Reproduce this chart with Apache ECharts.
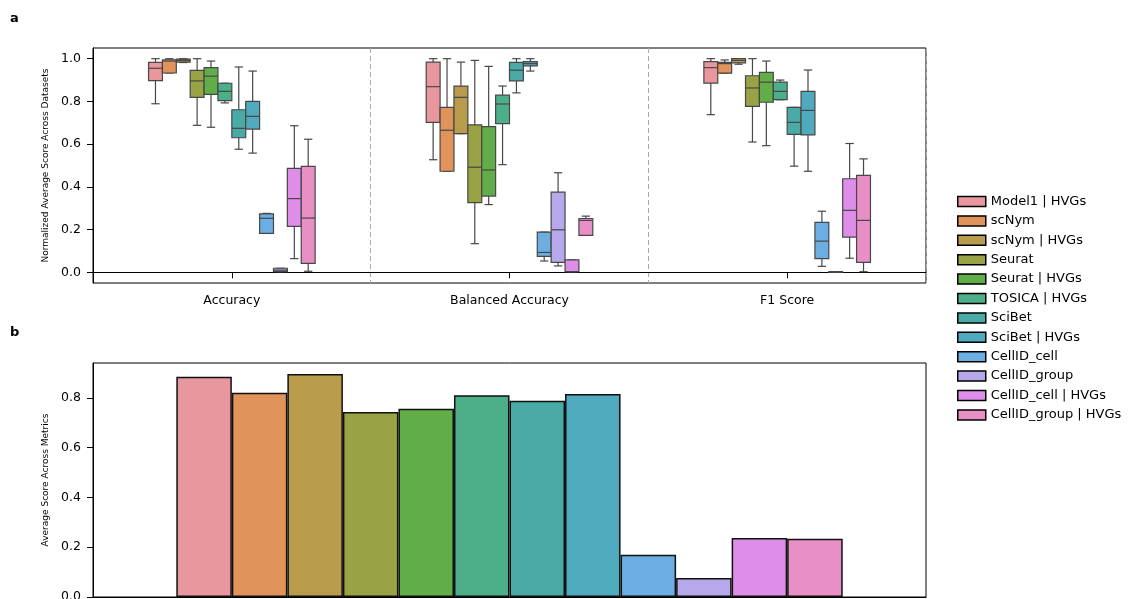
<!DOCTYPE html>
<html>
<head>
<meta charset="utf-8">
<script src="https://cdn.jsdelivr.net/npm/echarts@6/dist/echarts.min.js"></script>
<style>
  html, body { margin: 0; padding: 0; background: #ffffff; }
  #chart { width: 1128px; height: 599px; }
</style>
</head>
<body>
<div id="chart"></div>
<script>
// Methods compared, in plotting / legend order
const methods = [
  'Model1 | HVGs', 'scNym', 'scNym | HVGs', 'Seurat', 'Seurat | HVGs', 'TOSICA | HVGs',
  'SciBet', 'SciBet | HVGs', 'CellID_cell', 'CellID_group', 'CellID_cell | HVGs', 'CellID_group | HVGs'
];
const methodColors = [
  '#e9979f', '#e0935a', '#b89c4c', '#99a346', '#61ae48', '#4caf8a',
  '#4aaaa5', '#50aabe', '#6daee2', '#b7a8eb', '#de8ee8', '#e88fc5'
];
const metrics = ['Accuracy', 'Balanced Accuracy', 'F1 Score'];

// Box statistics per method: [lower whisker, Q1, median, Q3, upper whisker]
const accuracyStats = [
  [0.789, 0.897, 0.955, 0.983, 1.000],
  [0.933, 0.933, 0.989, 0.995, 1.000],
  [0.982, 0.984, 0.992, 0.998, 1.000],
  [0.688, 0.819, 0.896, 0.945, 1.000],
  [0.679, 0.833, 0.918, 0.958, 0.989],
  [0.793, 0.804, 0.847, 0.885, 0.885],
  [0.576, 0.630, 0.674, 0.761, 0.961],
  [0.558, 0.670, 0.730, 0.800, 0.942],
  [0.182, 0.182, 0.253, 0.274, 0.276],
  [0.003, 0.003, 0.010, 0.019, 0.019],
  [0.064, 0.215, 0.345, 0.487, 0.686],
  [0.005, 0.042, 0.254, 0.496, 0.623]
];
const balancedStats = [
  [0.527, 0.702, 0.869, 0.984, 1.000],
  [0.473, 0.473, 0.665, 0.772, 1.000],
  [0.649, 0.649, 0.819, 0.872, 0.984],
  [0.134, 0.326, 0.492, 0.690, 0.992],
  [0.317, 0.357, 0.479, 0.682, 0.964],
  [0.504, 0.696, 0.788, 0.829, 0.872],
  [0.840, 0.896, 0.946, 0.983, 1.000],
  [0.942, 0.966, 0.977, 0.986, 1.000],
  [0.053, 0.075, 0.093, 0.188, 0.188],
  [0.030, 0.047, 0.199, 0.375, 0.466],
  [0.003, 0.003, 0.003, 0.058, 0.058],
  [0.173, 0.173, 0.243, 0.252, 0.263]
];
const f1Stats = [
  [0.738, 0.886, 0.958, 0.986, 1.000],
  [0.932, 0.932, 0.977, 0.983, 0.994],
  [0.974, 0.980, 0.992, 1.000, 1.000],
  [0.610, 0.777, 0.863, 0.920, 1.000],
  [0.593, 0.796, 0.890, 0.936, 0.989],
  [0.808, 0.808, 0.847, 0.890, 0.900],
  [0.497, 0.646, 0.702, 0.772, 0.772],
  [0.473, 0.643, 0.758, 0.847, 0.947],
  [0.028, 0.064, 0.146, 0.234, 0.286],
  [0.002, 0.002, 0.002, 0.003, 0.003],
  [0.066, 0.165, 0.290, 0.438, 0.603],
  [0.003, 0.047, 0.243, 0.454, 0.531]
];

// Mean score of each method across the three metrics
const meanScores = [0.885, 0.820, 0.896, 0.743, 0.756, 0.810, 0.788, 0.815, 0.170, 0.076, 0.237, 0.234];

const scoreTicks = [0, 0.2, 0.4, 0.6, 0.8, 1.0];
const meanTicks = [0, 0.2, 0.4, 0.6, 0.8];

const FONT = 'DejaVu Sans';
const EDGE = '#474747';
const BOX_SPAN = 0.6;   // fraction of each metric band occupied by the box group

const chart = echarts.init(document.getElementById('chart'), null, { renderer: 'canvas' });

function boxRenderer(i) {
  return function (params, api) {
    const cat = api.value(0);
    const band = api.size([1, 0])[0];
    const slot = band * BOX_SPAN / methods.length;
    const cx = api.coord([cat, 0])[0] - band * BOX_SPAN / 2 + slot * (i + 0.5);
    const py = (dim) => api.coord([cat, api.value(dim)])[1];
    const lo = py(1), q1 = py(2), md = py(3), q3 = py(4), hi = py(5);
    const half = slot / 2, cap = slot * 0.3;
    const ls = { stroke: EDGE, lineWidth: 1.2 };
    return {
      type: 'group',
      children: [
        { type: 'line', shape: { x1: cx, y1: q3, x2: cx, y2: hi }, style: ls },
        { type: 'line', shape: { x1: cx, y1: q1, x2: cx, y2: lo }, style: ls },
        { type: 'line', shape: { x1: cx - cap, y1: hi, x2: cx + cap, y2: hi }, style: ls },
        { type: 'line', shape: { x1: cx - cap, y1: lo, x2: cx + cap, y2: lo }, style: ls },
        { type: 'rect', shape: { x: cx - half, y: q3, width: slot, height: Math.max(q1 - q3, 0.5) },
          style: { fill: methodColors[i], stroke: EDGE, lineWidth: 1.2 } },
        { type: 'line', shape: { x1: cx - half, y1: md, x2: cx + half, y2: md }, style: ls }
      ]
    };
  };
}

const statSets = [accuracyStats, balancedStats, f1Stats];
const series = [];
methods.forEach((name, i) => {
  series.push({
    name: name,
    type: 'custom',
    xAxisIndex: 0,
    yAxisIndex: 0,
    renderItem: boxRenderer(i),
    itemStyle: { color: methodColors[i] },
    encode: { x: 0, y: [1, 2, 3, 4, 5] },
    data: statSets.map((s, k) => [k].concat(s[i])),
    silent: true
  });
});
methods.forEach((name, i) => {
  series.push({
    name: name,
    type: 'bar',
    xAxisIndex: 1,
    yAxisIndex: 1,
    barGap: '0%',
    barCategoryGap: '20%',
    itemStyle: { color: methodColors[i], borderColor: '#111111', borderWidth: 1.5 },
    data: [meanScores[i]],
    silent: true
  });
});

const tickLabel = { fontFamily: FONT, fontSize: 12.5, color: '#000' };

chart.setOption({
  animation: false,
  backgroundColor: '#ffffff',
  textStyle: { fontFamily: FONT },
  graphic: [
    { type: 'text', x: 10, y: 19, style: { text: 'a', fontFamily: FONT, fontSize: 13, fontWeight: 'bold', fill: '#000', verticalAlign: 'middle' } },
    { type: 'text', x: 10, y: 333, style: { text: 'b', fontFamily: FONT, fontSize: 13, fontWeight: 'bold', fill: '#000', verticalAlign: 'middle' } }
  ],
  legend: {
    orient: 'vertical',
    left: 957,
    top: 195,
    padding: 0,
    itemWidth: 28,
    itemHeight: 10,
    itemGap: 6.4,
    selectedMode: false,
    icon: 'rect',
    textStyle: { fontFamily: FONT, fontSize: 13, color: '#000' },
    data: methods.map((name, i) => ({
      name: name,
      itemStyle: { color: methodColors[i], borderColor: '#000', borderWidth: 1.5 }
    }))
  },
  grid: [
    { left: 93, top: 48, width: 833, height: 235, show: true, borderColor: '#000', borderWidth: 1, containLabel: false, outerBoundsMode: 'none' },
    { left: 93, top: 363, width: 833, height: 234, show: true, borderColor: '#000', borderWidth: 1, containLabel: false, outerBoundsMode: 'none' }
  ],
  xAxis: [
    {
      type: 'category', gridIndex: 0, data: metrics, boundaryGap: true,
      axisLine: { lineStyle: { color: '#000', width: 1 } },
      axisTick: { show: true, alignWithLabel: true, length: 6, lineStyle: { color: '#000', width: 1 } },
      axisLabel: Object.assign({ margin: 11 }, tickLabel),
      splitLine: { show: true, lineStyle: { color: '#aaaaaa', type: [5, 3], width: 1 } }
    },
    {
      type: 'category', gridIndex: 1, data: [''], boundaryGap: true,
      axisLine: { lineStyle: { color: '#000', width: 1 } },
      axisTick: { show: false },
      axisLabel: { show: false },
      splitLine: { show: false }
    }
  ],
  yAxis: [
    {
      type: 'value', gridIndex: 0, min: -0.05, max: 1.05,
      name: 'Normalized Average Score Across Datasets',
      nameLocation: 'middle', nameRotate: 90, nameGap: 39,
      nameTextStyle: { fontFamily: FONT, fontSize: 9, color: '#000' },
      axisLine: { show: true, lineStyle: { color: '#000', width: 1 } },
      axisTick: { show: true, length: 6, customValues: scoreTicks, lineStyle: { color: '#000', width: 1 } },
      axisLabel: Object.assign({ margin: 12, customValues: scoreTicks, formatter: (v) => v.toFixed(1) }, tickLabel),
      splitLine: { show: false }
    },
    {
      type: 'value', gridIndex: 1, min: 0, max: 0.94,
      name: 'Average Score Across Metrics',
      nameLocation: 'middle', nameRotate: 90, nameGap: 39,
      nameTextStyle: { fontFamily: FONT, fontSize: 9, color: '#000' },
      axisLine: { show: true, lineStyle: { color: '#000', width: 1 } },
      axisTick: { show: true, length: 6, customValues: meanTicks, lineStyle: { color: '#000', width: 1 } },
      axisLabel: Object.assign({ margin: 12, customValues: meanTicks, formatter: (v) => v.toFixed(1) }, tickLabel),
      splitLine: { show: false }
    }
  ],
  series: series
});
</script>
</body>
</html>
